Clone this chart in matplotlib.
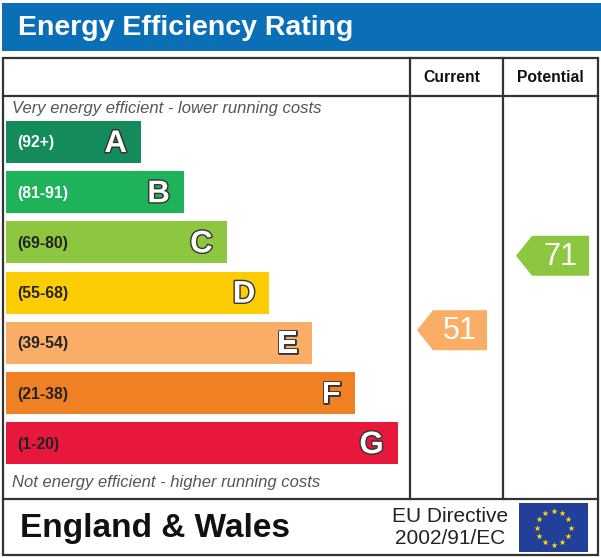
import matplotlib
matplotlib.use("Agg")
import matplotlib.pyplot as plt
from matplotlib.patches import Rectangle, Polygon
import matplotlib.patheffects as pe
import numpy as np

# ---- data ----
bands = ["A", "B", "C", "D", "E", "F", "G"]
range_labels = ["(92+)", "(81-91)", "(69-80)", "(55-68)", "(39-54)", "(21-38)", "(1-20)"]
band_low = [92, 81, 69, 55, 39, 21, 1]
band_high = [100, 91, 80, 68, 54, 38, 20]
band_colors = ["#138b5a", "#1eb35a", "#8dc63f", "#fccd05", "#f9ad66", "#ef8024", "#e8183d"]
label_colors = ["white", "white", "#222222", "#222222", "#222222", "#222222", "#222222"]
current_value = 51
potential_value = 71
title = "Energy Efficiency Rating"
col_headers = ["Current", "Potential"]
top_note = "Very energy efficient - lower running costs"
bottom_note = "Not energy efficient - higher running costs"
region = "England & Wales"
directive = ["EU Directive", "2002/91/EC"]

FONT = "Liberation Sans"

fig = plt.figure(figsize=(6.01, 5.58), dpi=100)
ax = fig.add_axes([0, 0, 1, 1])
ax.set_xlim(0, 601)
ax.set_ylim(558, 0)
ax.axis("off")

# title bar
ax.add_patch(Rectangle((2, 3), 599, 48, facecolor="#0b6fb8", edgecolor="none"))
ax.text(18, 28, title, color="white", fontsize=20.5, fontweight="bold",
        family=FONT, va="center", ha="left")

# frame
lc = "#333333"
lw = 1.6
ax.add_patch(Rectangle((3, 58), 595, 497, facecolor="white", edgecolor=lc, lw=lw, zorder=1))
ax.plot([3, 598], [96, 96], color=lc, lw=lw, zorder=2)
ax.plot([3, 598], [499, 499], color=lc, lw=lw, zorder=2)
ax.plot([410, 410], [58, 499], color=lc, lw=lw, zorder=2)
ax.plot([503, 503], [58, 499], color=lc, lw=lw, zorder=2)

ax.text(452, 77, col_headers[0], fontsize=11.3, fontweight="bold", family=FONT,
        ha="center", va="center", color="#111111")
ax.text(550, 77, col_headers[1], fontsize=11.3, fontweight="bold", family=FONT,
        ha="center", va="center", color="#111111")

ax.text(12, 108, top_note, fontsize=12, style="italic", family=FONT,
        color="#555555", ha="left", va="center")
ax.text(12, 483, bottom_note, fontsize=12, style="italic", family=FONT,
        color="#555555", ha="left", va="center")

# bands
bar_left = 6
bar_top0 = 121
pitch = 50.2
bar_h = 42
bar_right0 = 141
bar_step = 42.8
stroke = [pe.withStroke(linewidth=2.0, foreground="#333333")]
tops = []
for i, (b, rl) in enumerate(zip(bands, range_labels)):
    top = bar_top0 + i * pitch
    tops.append(top)
    right = bar_right0 + i * bar_step
    ax.add_patch(Rectangle((bar_left, top), right - bar_left, bar_h,
                           facecolor=band_colors[i], edgecolor="none", zorder=3))
    ax.text(17, top + bar_h / 2 + 1, rl, fontsize=11.3, fontweight="bold", family=FONT,
            color=label_colors[i], ha="left", va="center", zorder=4)
    ax.text(right - 14, top + bar_h / 2 + 2, b, fontsize=22.5, fontweight="bold",
            family=FONT, color="white", ha="right", va="center", zorder=4,
            path_effects=stroke)


def value_y(v):
    for i in range(len(bands)):
        if band_low[i] <= v <= band_high[i]:
            frac = (v - band_low[i]) / (band_high[i] - band_low[i])
            return tops[i] + bar_h * (1 - frac)
    return tops[-1]


def color_for(v):
    for i in range(len(bands)):
        if band_low[i] <= v <= band_high[i]:
            return band_colors[i]
    return band_colors[-1]


def arrow(x0, x1, v):
    yc = value_y(v)
    h = 40
    tip = 16
    pts = [(x0, yc), (x0 + tip, yc - h / 2), (x1, yc - h / 2),
           (x1, yc + h / 2), (x0 + tip, yc + h / 2)]
    ax.add_patch(Polygon(pts, closed=True, facecolor=color_for(v), edgecolor="none", zorder=3))
    ax.text((x0 + tip + x1) / 2 + 0, yc + 1, str(v), fontsize=22, family=FONT,
            color="white", ha="center", va="center", zorder=4)


arrow(417, 487, current_value)
arrow(516, 589, potential_value)

# footer
ax.text(20, 528, region, fontsize=24, fontweight="bold", family=FONT,
        color="#111111", ha="left", va="center")
ax.text(450, 516, directive[0], fontsize=15, family=FONT, color="#222222",
        ha="center", va="center")
ax.text(450, 539, directive[1], fontsize=15, family=FONT, color="#222222",
        ha="center", va="center")

# EU flag
ax.add_patch(Rectangle((519, 503), 69, 49, facecolor="#22409a", edgecolor="none", zorder=3))
ang = np.linspace(0, 2 * np.pi, 12, endpoint=False)
ax.scatter(553.5 + 17 * np.cos(ang), 527.5 + 17 * np.sin(ang), marker="*", s=22,
           color="#ffdd00", linewidths=0, zorder=4)

fig.savefig("out.png", dpi=100)
